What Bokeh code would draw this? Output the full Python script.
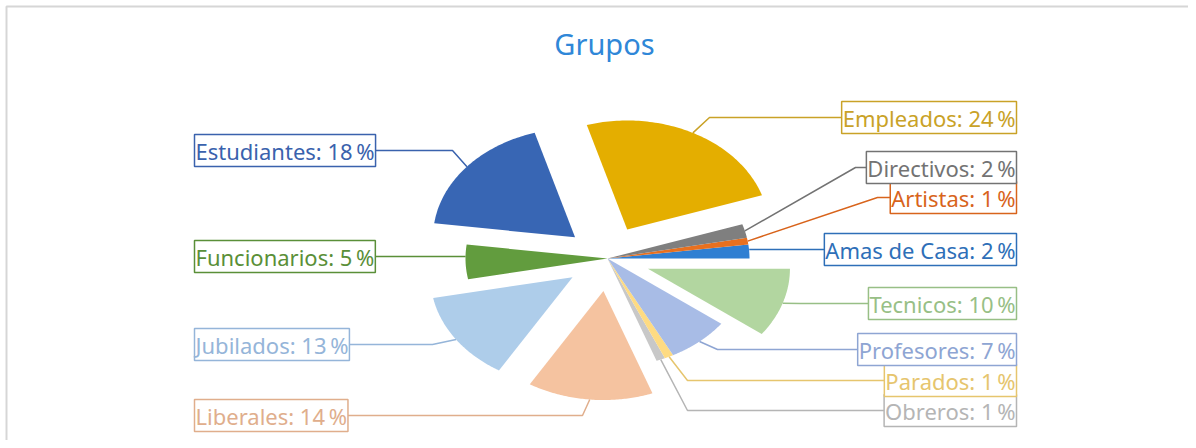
import numpy as np
from bokeh.plotting import figure
from bokeh.models import Range1d, Label
from bokeh.embed import file_html
from bokeh.resources import INLINE

# ---- data ----
categories = ["Amas de Casa", "Artistas", "Directivos", "Empleados", "Estudiantes",
              "Funcionarios", "Jubilados", "Liberales", "Obreros", "Parados",
              "Profesores", "Tecnicos"]
percent = [2, 1, 2, 24, 18, 5, 13, 14, 1, 1, 7, 10]
title_text = "Grupos"

# ---- styles ----
slice_colors = ["#2f7fd2", "#e8701f", "#7f7f7f", "#e4ae00", "#3866b4", "#629c3e",
                "#aecdea", "#f5c3a0", "#c8c8c8", "#fedb82", "#a8bce6", "#b2d6a0"]
label_colors = ["#2e6fb8", "#d8641c", "#737373", "#c9a227", "#3a62ad", "#5a8f38",
                "#95b5d9", "#e0ae8c", "#b5b5b5", "#e6c56e", "#8ea5d3", "#98bf86"]

# layout (page-pixel coordinates)
W, H = 1188, 440
CX, CY = 607, 258
RX, RY = 142, 109
EXPLODE = 0.30
label_side = ["R", "R", "R", "R", "L", "L", "L", "L", "R", "R", "R", "R"]
label_y = [249, 197, 167, 117, 150, 256, 344, 415, 410, 380, 349, 303]
elbow_x = [None, 877, 855, 709, 452, None, 432, 582, 687, 687, 717, 800]
RIGHT_EDGE, LEFT_EDGE = 1016, 192

p = figure(width=W, height=H, output_backend="svg", toolbar_location=None,
           x_range=Range1d(0, W), y_range=Range1d(H, 0),
           min_border=0, outline_line_color=None)
p.axis.visible = False
p.xgrid.visible = False
p.ygrid.visible = False
p.background_fill_color = "white"
p.border_fill_color = "white"

# chart border (top and left visible)
p.line([6, 6, W], [H, 6, 6], line_color="#d6d6d6", line_width=2)

total = float(sum(percent))
start = 0.0
for i, (name, v) in enumerate(zip(categories, percent)):
    span = 360.0 * v / total
    a0, a1 = np.radians(start), np.radians(start + span)
    mid = (a0 + a1) / 2
    d = EXPLODE if v >= 10 else 0.0
    ox = d * RX * np.cos(mid)
    oy = -d * RY * np.sin(mid)
    t = np.linspace(a0, a1, 80)
    xs = np.concatenate([[CX + ox], CX + ox + RX * np.cos(t)])
    ys = np.concatenate([[CY + oy], CY + oy - RY * np.sin(t)])
    p.patch(xs, ys, fill_color=slice_colors[i], line_color=None)

    # leader line
    axp = CX + ox + RX * np.cos(mid)
    ayp = CY + oy - RY * np.sin(mid)
    ly = label_y[i]
    lx_end = RIGHT_EDGE - 20 if label_side[i] == "R" else LEFT_EDGE + 20
    lxs = [axp]
    lys = [ayp]
    if elbow_x[i] is not None:
        lxs.append(elbow_x[i])
        lys.append(ly)
    else:
        lys[0] = ly if abs(ayp - ly) < 8 else ayp
    lxs.append(lx_end)
    lys.append(ly)
    p.line(lxs, lys, line_color=label_colors[i], line_width=1.5)

    txt = f"{name}: {v}\u202f%"
    if label_side[i] == "R":
        lab = Label(x=RIGHT_EDGE, y=ly, text=txt, text_align="right")
    else:
        lab = Label(x=LEFT_EDGE + 2, y=ly, text=txt, text_align="left")
    lab.text_baseline = "middle"
    lab.text_font = "Noto Sans"
    lab.text_font_size = "22px"
    lab.text_color = label_colors[i]
    lab.padding = 1
    lab.border_line_color = label_colors[i]
    lab.border_line_width = 1.5
    lab.background_fill_color = "white"
    p.add_layout(lab)
    start += span

title = Label(x=CX - 3, y=43, text=title_text, text_align="center", text_baseline="middle",
              text_font="Noto Sans", text_font_size="29px", text_color="#2f87d8")
p.add_layout(title)

open("out.html", "w").write(file_html(p, INLINE))
